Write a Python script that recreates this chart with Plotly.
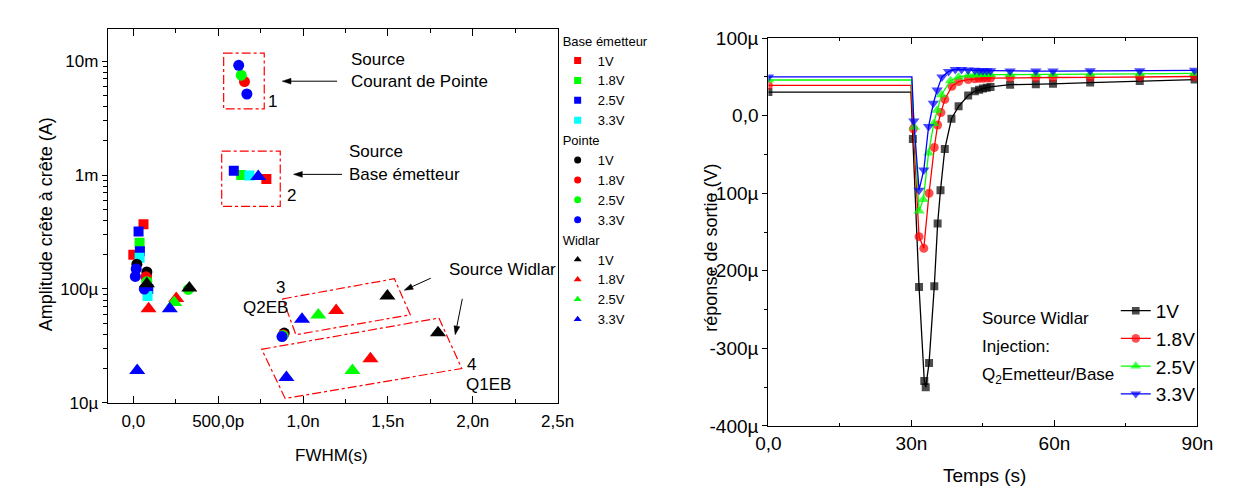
import math
import plotly.graph_objects as go

# ---------------- Left chart data: FWHM (ns) and peak-to-peak amplitude (A)
volt_labels = ["1V", "1.8V", "2.5V", "3.3V"]

be_1v_x = [0.060, 0.000, 0.080, 0.784]
be_1v_y = [3.70e-4, 2.00e-4, 1.25e-4, 9.25e-4]
be_18v_x = [0.037, 0.080, 0.636]
be_18v_y = [2.55e-4, 1.15e-4, 1.00e-3]
be_25v_x = [0.031, 0.039, 0.088, 0.592]
be_25v_y = [3.19e-4, 2.14e-4, 1.00e-4, 1.09e-3]
be_33v_x = [0.037, 0.084, 0.684]
be_33v_y = [1.88e-4, 8.70e-5, 9.90e-4]

pt_1v_x = [0.021, 0.080, 0.889]
pt_1v_y = [1.65e-4, 1.41e-4, 4.10e-5]
pt_18v_x = [0.075, 0.655, 0.884]
pt_18v_y = [1.28e-4, 6.61e-3, 3.97e-5]
pt_25v_x = [0.080, 0.324, 0.636, 0.882]
pt_25v_y = [1.16e-4, 9.90e-5, 7.52e-3, 3.90e-5]
pt_33v_x = [0.017, 0.012, 0.065, 0.621, 0.669, 0.876]
pt_33v_y = [1.50e-4, 1.29e-4, 1.00e-4, 9.18e-3, 5.14e-3, 3.82e-5]

wd_1v_x = [0.080, 0.330, 1.497, 1.795]
wd_1v_y = [1.11e-4, 1.02e-4, 8.67e-5, 4.13e-5]
wd_18v_x = [0.090, 0.253, 1.195, 1.397]
wd_18v_y = [6.70e-5, 8.24e-5, 6.48e-5, 2.44e-5]
wd_25v_x = [0.241, 1.090, 1.291]
wd_25v_y = [7.60e-5, 5.90e-5, 1.93e-5]
wd_33v_x = [0.023, 0.215, 0.736, 0.994, 0.902]
wd_33v_y = [1.93e-5, 6.70e-5, 9.70e-4, 5.42e-5, 1.67e-5]

left_x_tickvals = [0, 0.5, 1.0, 1.5, 2.0, 2.5]
left_x_ticktext = ["0,0", "500,0p", "1,0n", "1,5n", "2,0n", "2,5n"]
left_y_tickvals = [1e-5, 1e-4, 1e-3, 1e-2]
left_y_ticktext = ["10µ", "100µ", "1m", "10m"]

# ---------------- Right chart data: time (ns) and output response (µV)
t_1v = [0, 29.9, 30.3, 31.6, 32.7, 33.0, 33.7, 34.8, 35.5, 36.1, 37.0, 38.4, 39.9, 41.9,
        43.3, 44.2, 45.0, 45.8, 46.6, 50.7, 56.1, 59.7, 67.5, 77.9, 89.4]
v_1v = [30.4, 30.4, -30, -221, -342, -350, -319, -220, -139, -96, -43, -4, 12, 26,
        31.5, 33.5, 35, 36, 37, 40, 40.5, 41, 42.7, 44.8, 46.5]
t_18v = [0, 29.9, 30.4, 31.6, 32.6, 33.7, 34.8, 35.5, 36.2, 37.0, 38.5, 39.9, 41.9,
         43.3, 44.2, 45.0, 45.8, 46.6, 50.7, 56.1, 59.7, 67.5, 77.9, 89.4]
v_18v = [39, 39, -17, -156, -171, -100, -41, -12, 4, 21, 38, 44, 46.5,
         47.5, 48, 48.3, 48.5, 48.5, 49, 49, 49.2, 49.5, 50, 50.5]
t_25v = [0, 30.0, 30.6, 31.6, 32.5, 33.6, 34.7, 35.4, 36.3, 38.2, 39.9, 41.9,
         43.3, 44.2, 45.0, 45.8, 46.6, 50.7, 56.1, 59.7, 67.5, 77.9, 89.4]
v_25v = [46, 46, -15, -123, -108, -48, -10, 7, 27, 45, 50, 52,
         52.5, 53, 53, 53, 53, 53, 53, 53, 53.5, 54, 54.5]
t_33v = [0, 30.1, 30.5, 31.6, 32.6, 33.6, 34.6, 35.4, 36.4, 37.8, 39.2, 40.5, 41.9,
         43.3, 44.2, 45.0, 45.8, 46.6, 50.7, 56.1, 59.7, 67.5, 77.9, 89.4]
v_33v = [50, 50, -7, -96, -70, -14, 16, 33, 50, 57, 59.5, 59.5, 59,
         58.5, 58, 58, 58, 58, 57.5, 57.5, 57.5, 58, 58, 58.5]

right_x_tickvals = [0, 30, 60, 90]
right_x_ticktext = ["0,0", "30n", "60n", "90n"]
right_y_tickvals = [-400, -300, -200, -100, 0, 100]
right_y_ticktext = ["-400µ", "-300µ", "-200µ", "-100µ", "0,0", "100µ"]

# ---------------- helpers (page pixel -> paper fraction)
W, H = 1236, 495


def PX(x):
    return x / W


def PY(y):
    return 1 - y / H


FONT = "Liberation Sans, Arial, sans-serif"
RED, GREEN, BLUE, CYAN, BLACK = "#FF0000", "#00FF00", "#0000FF", "#00FFFF", "#000000"

Y_RANGE = [-5, math.log10(0.0193)]
log_minor = [k * 10.0 ** e for e in range(-5, -1) for k in range(2, 10)]

fig = go.Figure()

groups = [
    ("Base émetteur", "square", 10, [RED, GREEN, BLUE, CYAN],
     [(be_1v_x, be_1v_y), (be_18v_x, be_18v_y), (be_25v_x, be_25v_y), (be_33v_x, be_33v_y)]),
    ("Pointe", "circle", 11, [BLACK, RED, GREEN, BLUE],
     [(pt_1v_x, pt_1v_y), (pt_18v_x, pt_18v_y), (pt_25v_x, pt_25v_y), (pt_33v_x, pt_33v_y)]),
    ("Widlar", "triangle-up", 14, [BLACK, RED, GREEN, BLUE],
     [(wd_1v_x, wd_1v_y), (wd_18v_x, wd_18v_y), (wd_25v_x, wd_25v_y), (wd_33v_x, wd_33v_y)]),
]

for gname, sym, size, cols, series in groups:
    for i, (xs, ys) in enumerate(series):
        fig.add_trace(go.Scatter(x=xs, y=ys, mode="markers", xaxis="x", yaxis="y",
                                 marker=dict(symbol=sym, size=size, color=cols[i], line=dict(width=0)),
                                 showlegend=False, hoverinfo="skip"))

for gname, sym, size, cols, series in groups:
    for i in range(len(series)):
        kw = {}
        if i == 0:
            kw["legendgrouptitle"] = dict(text=gname, font=dict(size=13, family=FONT, color="black"))
        fig.add_trace(go.Scatter(x=[None], y=[None], mode="markers", xaxis="x", yaxis="y",
                                 marker=dict(symbol=sym, size=7, color=cols[i]),
                                 name=volt_labels[i], legendgroup=gname, legend="legend", **kw))

right_series = [
    ("1V", t_1v, v_1v, BLACK, "square", 8),
    ("1.8V", t_18v, v_18v, RED, "circle", 9),
    ("2.5V", t_25v, v_25v, GREEN, "triangle-up", 10),
    ("3.3V", t_33v, v_33v, BLUE, "triangle-down", 10),
]
for name, t, v, col, sym, size in right_series:
    # no marker on the knee point just before the drop
    sizes = [0 if k == 1 else size for k in range(len(t))]
    fig.add_trace(go.Scatter(x=t, y=v, mode="lines+markers", xaxis="x2", yaxis="y2",
                             name=name, legend="legend2",
                             line=dict(color=col, width=1.3),
                             marker=dict(symbol=sym, size=sizes, color=col, line=dict(width=0))))

axis_common = dict(showgrid=False, zeroline=False, showline=True, linecolor="black", linewidth=1.2,
                   tickcolor="black", tickfont=dict(family=FONT, size=17, color="black"))

fig.update_layout(
    width=W, height=H, margin=dict(l=0, r=0, t=0, b=0),
    paper_bgcolor="white", plot_bgcolor="white",
    font=dict(family=FONT, color="black"),
    xaxis=dict(domain=[PX(89), PX(550)], anchor="y", range=[-0.15, 2.5],
               tickmode="array", tickvals=left_x_tickvals, ticktext=left_x_ticktext,
               ticks="inside", ticklen=7, mirror="ticks",
               minor=dict(tickmode="linear", tick0=0, dtick=0.25, ticks="inside", ticklen=4, tickcolor="black"),
               ticklabelstandoff=3, **axis_common),
    yaxis=dict(domain=[PY(402), PY(11)], anchor="x", type="log", range=Y_RANGE,
               tickmode="array", tickvals=left_y_tickvals, ticktext=left_y_ticktext,
               ticks="outside", ticklen=5, mirror=True,
               minor=dict(tickmode="array", tickvals=log_minor, ticks="outside", ticklen=4, tickcolor="black"),
               **axis_common),
    yaxis3=dict(overlaying="y", side="right", anchor="x", type="log", range=Y_RANGE,
                tickmode="array", tickvals=left_y_tickvals, showticklabels=False,
                ticks="inside", ticklen=6, tickcolor="black", showgrid=False, zeroline=False, showline=False,
                minor=dict(tickmode="array", tickvals=log_minor, ticks="inside", ticklen=4, tickcolor="black")),
    xaxis2=dict(domain=[PX(766), PX(1205.7)], anchor="y2", range=[0, 90],
                tickmode="array", tickvals=right_x_tickvals, ticktext=right_x_ticktext,
                ticks="inside", ticklen=6, mirror="ticks",
                minor=dict(tickmode="linear", tick0=0, dtick=15, ticks="inside", ticklen=3, tickcolor="black"),
                **{**axis_common, "tickfont": dict(family=FONT, size=19, color="black")}),
    yaxis2=dict(domain=[PY(426), PY(21)], anchor="x2", range=[-400, 100],
                tickmode="array", tickvals=right_y_tickvals, ticktext=right_y_ticktext,
                ticks="outside", ticklen=5, mirror=True,
                minor=dict(tickmode="linear", tick0=0, dtick=50, ticks="outside", ticklen=3, tickcolor="black"),
                **{**axis_common, "tickfont": dict(family=FONT, size=19, color="black")}),
    yaxis4=dict(overlaying="y2", side="right", anchor="x2", range=[-400, 100],
                tickmode="linear", tick0=0, dtick=100, showticklabels=False,
                ticks="inside", ticklen=6, tickcolor="black", showgrid=False, zeroline=False, showline=False,
                minor=dict(tickmode="linear", tick0=0, dtick=50, ticks="inside", ticklen=3, tickcolor="black")),
    legend=dict(x=PX(550), y=PY(8), xanchor="left", yanchor="top", bgcolor="rgba(0,0,0,0)",
                font=dict(family=FONT, size=13, color="black"), tracegroupgap=0,
                traceorder="grouped", itemclick=False),
    legend2=dict(x=PX(1122), y=PY(286), xanchor="left", yanchor="top", bgcolor="rgba(0,0,0,0)",
                 font=dict(family=FONT, size=19, color="black"), tracegroupgap=0),
)

# ---------------- shapes (dash-dot boxes)
boxes_rect = [((207.7, 36.7), (249.3, 95)), ((205.7, 139), (265.7, 196.7))]
for (x0, y0), (x1, y1) in boxes_rect:
    fig.add_shape(type="rect", xref="paper", yref="paper", x0=PX(x0), x1=PX(x1), y0=PY(y0), y1=PY(y1),
                  line=dict(color=RED, width=1.2, dash="dashdot"))

boxes_poly = [
    [(268.3, 293.3), (382.7, 272.3), (399, 310), (281.7, 330.7)],
    [(246.7, 346), (428.3, 313.3), (451.7, 366), (270.7, 397.3)],
]
for pts in boxes_poly:
    path = "M " + " L ".join(f"{PX(x):.5f},{PY(y):.5f}" for x, y in pts) + " Z"
    fig.add_shape(type="path", xref="paper", yref="paper", path=path,
                  line=dict(color=RED, width=1.2, dash="dashdot"))

# ---------------- arrows (line + filled head)
arrows = [((267.7, 66), (324, 66)), ((279.3, 163.3), (329, 163.3)),
          ((392.7, 284.3), (420, 271.7)), ((445, 330.7), (452.3, 293.3))]
for (hx, hy), (tx, ty) in arrows:
    dx, dy = hx - tx, hy - ty
    L = math.hypot(dx, dy)
    ux, uy = dx / L, dy / L
    bx, by = hx - 9 * ux, hy - 9 * uy
    nx, ny = -uy * 3, ux * 3
    fig.add_shape(type="line", xref="paper", yref="paper", x0=PX(tx), y0=PY(ty), x1=PX(bx), y1=PY(by),
                  line=dict(color="black", width=1))
    tri = [(hx, hy), (bx + nx, by + ny), (bx - nx, by - ny)]
    path = "M " + " L ".join(f"{PX(x):.5f},{PY(y):.5f}" for x, y in tri) + " Z"
    fig.add_shape(type="path", xref="paper", yref="paper", path=path,
                  fillcolor="black", line=dict(color="black", width=0.5))


# ---------------- text annotations
def text(t, x, y, size=17, anchor="left", angle=0):
    fig.add_annotation(text=t, xref="paper", yref="paper", x=PX(x), y=PY(y), xanchor=anchor,
                       yanchor="middle", showarrow=False, textangle=angle,
                       font=dict(family=FONT, size=size, color="black"))


text("Source", 335.7, 43.3)
text("Courant de Pointe", 335.7, 66.7)
text("Source", 334.3, 139)
text("Base émetteur", 334.3, 163.3)
text("1", 258, 86.7, anchor="center")
text("2", 277.7, 185, anchor="center")
text("Source Widlar", 436.7, 262.7)
text("3", 265.7, 281, anchor="center")
text("Q2EB", 251, 302.7, anchor="center")
text("4", 461.7, 361.7, anchor="center")
text("Q1EB", 479.5, 382.7, anchor="center")

text("Amplitude crête à crête (A)", 25, 215, size=18, anchor="center", angle=-90)
text("FWHM(s)", 318, 456.7, size=17, anchor="center")

text("Source Widlar", 982.7, 314, size=17)
text("Injection:", 982.7, 343, size=17)
text("Q<sub>2</sub>Emetteur/Base", 982.7, 374, size=17)
text("réponse de sortie (V)", 707, 240, size=18, anchor="center", angle=-90)
text("Temps (s)", 987, 478, size=19, anchor="center")

fig.write_html("out.html")
